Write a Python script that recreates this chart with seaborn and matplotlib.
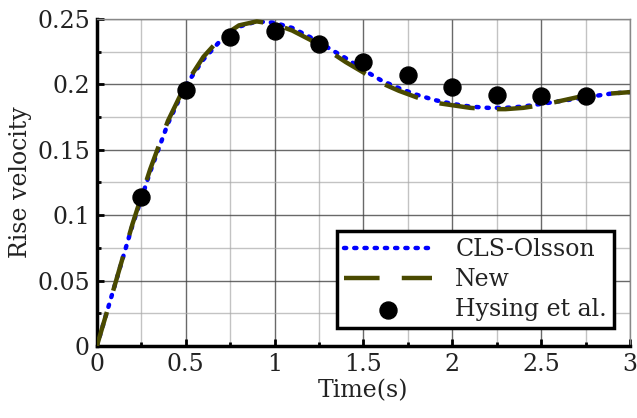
import matplotlib
matplotlib.use("Agg")
import matplotlib.pyplot as plt
from matplotlib.ticker import MultipleLocator
import pandas as pd
import seaborn as sns

# --------------------------------------------------
# Data
# --------------------------------------------------
time_cls = [0.0, 0.1, 0.2, 0.3, 0.4, 0.5, 0.6, 0.7, 0.8, 0.9, 1.0,
            1.1, 1.2, 1.3, 1.4, 1.5, 1.6, 1.7, 1.8, 1.9, 2.0,
            2.1, 2.2, 2.3, 2.4, 2.5, 2.6, 2.7, 2.8, 2.9, 3.0]
vel_cls = [0.0, 0.046, 0.092, 0.133, 0.170, 0.199, 0.219, 0.234, 0.244, 0.248, 0.247,
           0.243, 0.236, 0.228, 0.220, 0.211, 0.203, 0.197, 0.192, 0.188, 0.185,
           0.183, 0.182, 0.182, 0.183, 0.185, 0.187, 0.189, 0.191, 0.193, 0.194]

time_new = [0.0, 0.1, 0.2, 0.3, 0.4, 0.5, 0.6, 0.7, 0.8, 0.9, 1.0,
            1.1, 1.2, 1.3, 1.4, 1.5, 1.6, 1.7, 1.8, 1.9, 2.0,
            2.1, 2.2, 2.3, 2.4, 2.5, 2.6, 2.7, 2.8, 2.9, 3.0]
vel_new = [0.0, 0.046, 0.093, 0.135, 0.172, 0.200, 0.221, 0.236, 0.245, 0.248, 0.246,
           0.241, 0.234, 0.226, 0.217, 0.209, 0.201, 0.195, 0.190, 0.186, 0.184,
           0.182, 0.181, 0.181, 0.182, 0.184, 0.187, 0.190, 0.192, 0.193, 0.194]

time_hysing = [0.25, 0.5, 0.75, 1.0, 1.25, 1.5, 1.75, 2.0, 2.25, 2.5, 2.75]
vel_hysing = [0.114, 0.196, 0.236, 0.241, 0.231, 0.217, 0.207, 0.198, 0.192, 0.191, 0.191]

cls_df = pd.DataFrame({"t": time_cls, "v": vel_cls})
new_df = pd.DataFrame({"t": time_new, "v": vel_new})
hys_df = pd.DataFrame({"t": time_hysing, "v": vel_hysing})

# --------------------------------------------------
# Style
# --------------------------------------------------
sns.set_theme(style="white")
plt.rcParams["font.family"] = ["DejaVu Serif", "DejaVu Sans"]

fig = plt.figure(figsize=(6.37, 4.18), dpi=100)
ax = fig.add_axes([0.152, 0.172, 0.837, 0.783])

sns.lineplot(data=cls_df, x="t", y="v", ax=ax, color="#0000ff",
             linestyle=(0, (0.5, 1.8)), linewidth=3.2, dash_capstyle="round",
             label="CLS-Olsson", zorder=2)
sns.lineplot(data=new_df, x="t", y="v", ax=ax, color="#4a4a00",
             linestyle=(0, (8, 5)), linewidth=3.2, label="New", zorder=3)
sns.scatterplot(data=hys_df, x="t", y="v", ax=ax, color="black", s=150,
                edgecolor="black", zorder=5, label="Hysing et al.")

ax.set_xlim(0, 3)
ax.set_ylim(0, 0.25)
ax.xaxis.set_minor_locator(MultipleLocator(0.25))
ax.yaxis.set_minor_locator(MultipleLocator(0.025))
ax.set_xticks([0, 0.5, 1, 1.5, 2, 2.5, 3])
ax.set_xticklabels(["0", "0.5", "1", "1.5", "2", "2.5", "3"])
ax.set_yticks([0, 0.05, 0.1, 0.15, 0.2, 0.25])
ax.set_yticklabels(["0", "0.05", "0.1", "0.15", "0.2", "0.25"])

ax.grid(which="major", color="#444444", linewidth=1.0, alpha=0.8)
ax.grid(which="minor", color="#aaaaaa", linewidth=1.0, alpha=0.7)
ax.set_axisbelow(True)

ax.tick_params(which="both", direction="in", bottom=True, left=True,
               labelsize=17, colors="black", labelcolor="#222222", pad=5)
ax.tick_params(which="major", length=5, width=2)
ax.tick_params(which="minor", length=3, width=2)

for side in ["left", "bottom"]:
    ax.spines[side].set_color("black")
    ax.spines[side].set_linewidth(2.5)
for side in ["top", "right"]:
    ax.spines[side].set_color("#888888")
    ax.spines[side].set_linewidth(1.0)

ax.set_xlabel("Time(s)", fontsize=17, color="#222222", labelpad=2)
ax.set_ylabel("Rise velocity", fontsize=17, color="#222222", labelpad=4)

leg = ax.legend(loc="lower right", fontsize=17, frameon=True, fancybox=False,
                borderpad=0.3, labelspacing=0.3, handlelength=3.7,
                handletextpad=1.0, borderaxespad=0.0,
                bbox_to_anchor=(0.97, 0.055))
leg.get_frame().set_edgecolor("black")
leg.get_frame().set_linewidth(2.5)
leg.get_frame().set_alpha(1)
for txt in leg.get_texts():
    txt.set_color("#222222")

fig.savefig("out.png", dpi=100)
plt.close(fig)
